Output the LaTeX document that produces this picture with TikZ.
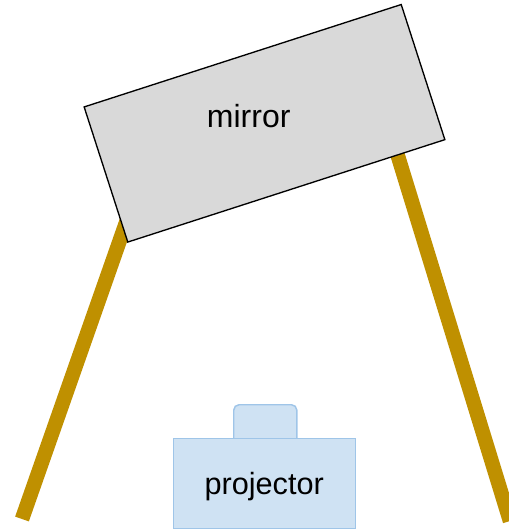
\documentclass[tikz,border=0pt]{standalone}
\usepackage{fontspec}
\setmainfont{Liberation Sans}
\usepackage{tikz}
\usetikzlibrary{positioning}

\definecolor{mirrorgray}{HTML}{D9D9D9}
\definecolor{legyellow}{HTML}{BF9000}
\definecolor{projblue}{HTML}{CFE2F3}
\definecolor{projedge}{HTML}{9FC5E8}

\begin{document}
\begin{tikzpicture}[x=0.75pt, y=-0.75pt]
    \useasboundingbox (0,0) rectangle (508,530);

    % Patas del soporte (van por debajo del espejo)
    \coordinate (leftfoot) at (22,519);
    \coordinate (lefttop) at (134,200);
    \coordinate (rightfoot) at (510,521);
    \coordinate (righttop) at (393,140);
    \draw[legyellow, line width=10.9pt] (leftfoot) -- (lefttop);
    \draw[legyellow, line width=10.9pt] (rightfoot) -- (righttop);

    % Espejo inclinado
    \node (mirror) [draw, line width=1pt, fill=mirrorgray, rectangle, rotate=17.9, inner sep=0pt,
        minimum width=249.9pt, minimum height=106.5pt] at (264.5,123.3) {};
    \node (mirrortext) [anchor=base, inner sep=0pt, font=\fontsize{24}{28}\selectfont] at (248.7,127.3) {mirror};

    % Proyector con su pestaña
    \node (tab) [draw=projedge, line width=1.1pt, fill=projblue, rectangle, rounded corners=4pt,
        anchor=north west, minimum width=47.3pt, minimum height=30pt] at (233,404) {};
    \node (projector) [draw=projedge, line width=1.1pt, fill=projblue, rectangle,
        anchor=north west, minimum width=136.5pt, minimum height=67.5pt] at (173,438) {};
    \node (projtext) [anchor=base, inner sep=0pt, font=\fontsize{23}{27}\selectfont] at (264.2,494) {projector};
\end{tikzpicture}
\end{document}
